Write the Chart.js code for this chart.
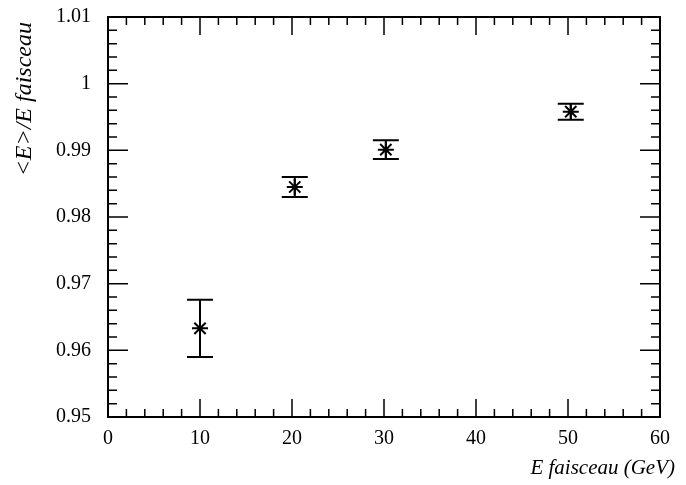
<!DOCTYPE html>
<html>
<head>
<meta charset="utf-8">
<script src="https://cdn.jsdelivr.net/npm/chart.js@4.4.0/dist/chart.umd.min.js"></script>
<style>
    html, body { margin: 0; padding: 0; background: #fff; }
    #wrap { width: 686px; height: 485px; }
</style>
</head>
<body>
<div id="wrap"><canvas id="grafico" width="686" height="485"></canvas></div>
<script>
// valeurs
const energies = [10, 20.3, 30.2, 50.3];
const ratios = [0.9633, 0.9845, 0.9901, 0.9958];
const erreurs = [0.0043, 0.0015, 0.0014, 0.0012];

const xTicks = [0, 10, 20, 30, 40, 50, 60];
const yTicks = [0.95, 0.96, 0.97, 0.98, 0.99, 1.00, 1.01];
const yLabels = ['0.95', '0.96', '0.97', '0.98', '0.99', '1', '1.01'];

const titreX = 'E faisceau (GeV)';
const titreY = '<E>/E faisceau';

const police = '"Liberation Serif", "DejaVu Serif", serif';

// barres d'erreur verticales avec petits traits horizontaux
const barresErreur = {
    id: 'barresErreur',
    afterDatasetsDraw(chart) {
        const { ctx, scales: { x, y } } = chart;
        ctx.save();
        ctx.strokeStyle = '#000';
        ctx.lineWidth = 2;
        energies.forEach((e, i) => {
            const px = x.getPixelForValue(e);
            const haut = y.getPixelForValue(ratios[i] + erreurs[i]);
            const bas = y.getPixelForValue(ratios[i] - erreurs[i]);
            ctx.beginPath();
            ctx.moveTo(px, haut); ctx.lineTo(px, bas);
            ctx.moveTo(px - 13, haut); ctx.lineTo(px + 13, haut);
            ctx.moveTo(px - 13, bas); ctx.lineTo(px + 13, bas);
            ctx.stroke();
        });
        ctx.restore();
    }
};

// cadre avec graduations vers l'interieur sur les quatre cotes
const cadre = {
    id: 'cadre',
    afterDraw(chart) {
        const { ctx, chartArea: a, scales: { x, y } } = chart;
        ctx.save();
        ctx.strokeStyle = '#000';
        ctx.lineWidth = 2;
        ctx.strokeRect(a.left, a.top, a.right - a.left, a.bottom - a.top);

        ctx.lineWidth = 1.5;
        ctx.beginPath();
        for (let v = 0; v <= 60; v += 2) {
            const px = x.getPixelForValue(v);
            const long = v % 10 === 0 ? 18 : 8;
            ctx.moveTo(px, a.bottom); ctx.lineTo(px, a.bottom - long);
            ctx.moveTo(px, a.top); ctx.lineTo(px, a.top + long);
        }
        for (let k = 0; k <= 30; k++) {
            const py = y.getPixelForValue(0.95 + k * 0.002);
            const long = k % 5 === 0 ? 20 : 9;
            ctx.moveTo(a.left, py); ctx.lineTo(a.left + long, py);
            ctx.moveTo(a.right, py); ctx.lineTo(a.right - long, py);
        }
        ctx.stroke();

        // titres des axes
        ctx.fillStyle = '#000';
        ctx.font = 'italic 21px ' + police;
        ctx.textAlign = 'right';
        ctx.textBaseline = 'alphabetic';
        ctx.fillText(titreX, 675, 474);

        ctx.font = 'italic 24px ' + police;
        ctx.translate(31, 22);
        ctx.rotate(-Math.PI / 2);
        ctx.textAlign = 'right';
        ctx.fillText(titreY, 0, 0);
        ctx.restore();
    }
};

new Chart(document.getElementById('grafico'), {
    type: 'scatter',
    data: {
        datasets: [{
            data: energies.map((e, i) => ({ x: e, y: ratios[i] })),
            pointStyle: 'star',
            pointRadius: 8,
            pointBorderWidth: 2,
            borderColor: '#000',
            backgroundColor: '#000'
        }]
    },
    options: {
        responsive: false,
        animation: false,
        layout: { padding: { left: 0, right: 26, top: 17, bottom: 0 } },
        plugins: { legend: { display: false }, tooltip: { enabled: false } },
        scales: {
            x: {
                type: 'linear',
                min: 0, max: 60,
                afterFit: s => { s.height = 68; s.paddingLeft = 0; s.paddingRight = 0; },
                afterBuildTicks: s => { s.ticks = xTicks.map(v => ({ value: v })); },
                grid: { display: false, drawTicks: false },
                border: { display: false },
                ticks: {
                    color: '#000',
                    padding: 10,
                    font: { family: police, size: 20 },
                    maxRotation: 0
                }
            },
            y: {
                type: 'linear',
                min: 0.95, max: 1.01,
                afterFit: s => { s.width = 108; s.paddingTop = 0; s.paddingBottom = 0; },
                afterBuildTicks: s => { s.ticks = yTicks.map(v => ({ value: v })); },
                grid: { display: false, drawTicks: false },
                border: { display: false },
                ticks: {
                    color: '#000',
                    padding: 17,
                    font: { family: police, size: 20 },
                    callback: (v, i) => yLabels[i]
                }
            }
        }
    },
    plugins: [barresErreur, cadre]
});
</script>
</body>
</html>
